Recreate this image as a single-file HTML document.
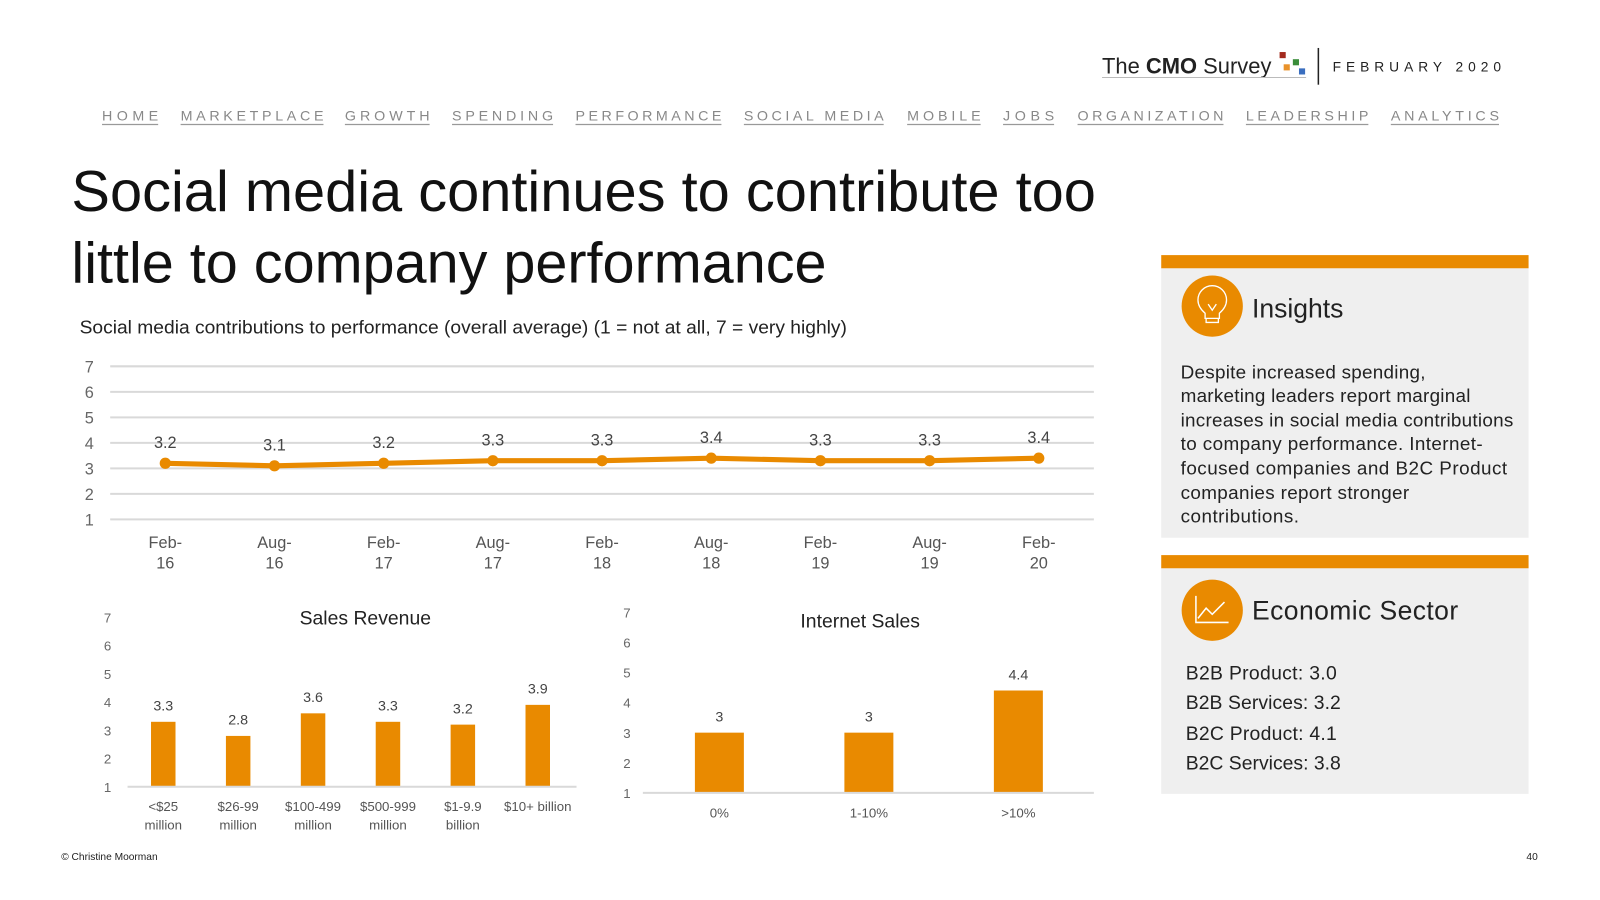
<!DOCTYPE html>
<html><head><meta charset="utf-8"><style>
body{margin:0;background:#fff;font-family:"Liberation Sans",sans-serif}
svg{display:block}
</style></head><body>
<svg width="1600" height="900" viewBox="0 0 1568 882" xmlns="http://www.w3.org/2000/svg" font-family="Liberation Sans, sans-serif">
<g>
<text x="1080" y="72" font-size="22" fill="#222" textLength="166" lengthAdjust="spacingAndGlyphs">The <tspan font-weight="bold">CMO</tspan> Survey</text>
<line x1="1080" y1="76" x2="1280" y2="76" stroke="#bbb" stroke-width="1"/>
<rect x="1254" y="51" width="6" height="6" fill="#a32a1e"/><rect x="1258" y="63" width="6" height="6" fill="#e9922a"/><rect x="1267" y="58" width="6" height="6" fill="#3a8d3a"/><rect x="1273" y="67" width="6" height="6" fill="#3a6ebf"/>
</g>
<line x1="1292" y1="47" x2="1292" y2="83" stroke="#222" stroke-width="1.5"/>
<text x="1306" y="70" font-size="13.5" fill="#222" letter-spacing="5" textLength="170">FEBRUARY 2020</text>
<g font-size="14" fill="#888">
<text x="100" y="118" textLength="55">HOME</text>
<text x="177" y="118" textLength="140">MARKETPLACE</text>
<text x="338" y="118" textLength="83">GROWTH</text>
<text x="443" y="118" textLength="99">SPENDING</text>
<text x="564" y="118" textLength="143">PERFORMANCE</text>
<text x="729" y="118" textLength="137">SOCIAL MEDIA</text>
<text x="889" y="118" textLength="72">MOBILE</text>
<text x="983" y="118" textLength="50">JOBS</text>
<text x="1056" y="118" textLength="143">ORGANIZATION</text>
<text x="1221" y="118" textLength="120">LEADERSHIP</text>
<text x="1363" y="118" textLength="106">ANALYTICS</text>
<g stroke="#999" stroke-width="1.2">
<line x1="100" y1="122" x2="155" y2="122"/><line x1="177" y1="122" x2="317" y2="122"/><line x1="338" y1="122" x2="421" y2="122"/><line x1="443" y1="122" x2="542" y2="122"/><line x1="564" y1="122" x2="707" y2="122"/><line x1="729" y1="122" x2="866" y2="122"/><line x1="889" y1="122" x2="961" y2="122"/><line x1="983" y1="122" x2="1033" y2="122"/><line x1="1056" y1="122" x2="1199" y2="122"/><line x1="1221" y1="122" x2="1341" y2="122"/><line x1="1363" y1="122" x2="1469" y2="122"/>
</g></g>
<g font-size="56" fill="#111">
<text x="70" y="207" textLength="1004" lengthAdjust="spacingAndGlyphs">Social media continues to contribute too</text>
<text x="70" y="277" textLength="740" lengthAdjust="spacingAndGlyphs">little to company performance</text>
</g>
<text x="78" y="327" font-size="18" fill="#222" textLength="752" lengthAdjust="spacingAndGlyphs">Social media contributions to performance (overall average) (1 = not at all, 7 = very highly)</text>
<g id="lineChart"></g>
<g id="salesChart"></g>
<g id="internetChart"></g>
<g>
<rect x="1138" y="250" width="360" height="13" fill="#e98a00"/>
<rect x="1138" y="263" width="360" height="264" fill="#efefef"/>
<circle cx="1188" cy="300" r="30" fill="#e98a00"/>
<path d="M1181 312 v-5 q-7-6-7-13 a14 14 0 0 1 28 0 q0 7-7 13 v5 z M1182 312 h12 v4 h-12z M1184 298 l4 6 l4-6" fill="none" stroke="#fff" stroke-width="1.3"/>
<text x="1227" y="311" font-size="26" fill="#222">Insights</text>
<g font-size="18.5" fill="#222">
<text x="1157" y="371" textLength="240">Despite increased spending,</text>
<text x="1157" y="394" textLength="284">marketing leaders report marginal</text>
<text x="1157" y="418" textLength="326">increases in social media contributions</text>
<text x="1157" y="441" textLength="296">to company performance. Internet-</text>
<text x="1157" y="465" textLength="320">focused companies and B2C Product</text>
<text x="1157" y="489" textLength="224">companies report stronger</text>
<text x="1157" y="512" textLength="116">contributions.</text>
</g></g>
<g>
<rect x="1138" y="544" width="360" height="13" fill="#e98a00"/>
<rect x="1138" y="557" width="360" height="221" fill="#efefef"/>
<circle cx="1188" cy="598" r="30" fill="#e98a00"/>
<path d="M1172 584 v26 h32 M1174 606 l8-10 l6 6 l12-12" fill="none" stroke="#fff" stroke-width="1.5"/>
<text x="1227" y="607" font-size="26" fill="#222" textLength="202">Economic Sector</text>
<g font-size="19" fill="#222">
<text x="1162" y="666" textLength="148">B2B Product: 3.0</text>
<text x="1162" y="695" textLength="152">B2B Services: 3.2</text>
<text x="1162" y="725" textLength="148">B2C Product: 4.1</text>
<text x="1162" y="754" textLength="152">B2C Services: 3.8</text>
</g></g>
<text x="60" y="843" font-size="10" fill="#222">© Christine Moorman</text>
<text x="1507" y="843" font-size="10" fill="#222" text-anchor="end">40</text>
</svg>
<script>
const NS="http://www.w3.org/2000/svg";
const lineCats=["Feb-|16","Aug-|16","Feb-|17","Aug-|17","Feb-|18","Aug-|18","Feb-|19","Aug-|19","Feb-|20"];
const lineVals=[3.2,3.1,3.2,3.3,3.3,3.4,3.3,3.3,3.4];
const yTicks=[1,2,3,4,5,6,7];
const salesCats=["<$25|million","$26-99|million","$100-499|million","$500-999|million","$1-9.9|billion","$10+ billion"];
const salesVals=[3.3,2.8,3.6,3.3,3.2,3.9];
const netCats=["0%","1-10%",">10%"];
const netVals=[3,3,4.4];
const ORANGE="#e98a00";
function mk(p,tag,a,txt){const e=document.createElementNS(NS,tag);for(const k in a)e.setAttribute(k,a[k]);if(txt!==undefined)e.textContent=txt;p.appendChild(e);return e;}
(function(){
const g=document.getElementById('lineChart');
const y=v=>509-(v-1)*25, x=i=>162+i*107;
yTicks.forEach(t=>{
 const l=mk(g,'line',{x1:108,x2:1072,y1:y(t),y2:y(t),stroke:'#d9d9d9','stroke-width':2});
 
 
 const tx=mk(g,'text',{x:92,y:y(t)+6,'font-size':16,fill:'#666','text-anchor':'end'},t);
 
 
});
const pts=lineVals.map((v,i)=>x(i)+','+y(v)).join(' ');
const pl=mk(g,'polyline',{points:pts,fill:'none',stroke:ORANGE,'stroke-width':5});


lineVals.forEach((v,i)=>{
 const c=mk(g,'circle',{cx:x(i),cy:y(v),r:5.5,fill:ORANGE});
 
 
 const t=mk(g,'text',{x:x(i),y:y(v)-15,'font-size':16,fill:'#444','text-anchor':'middle'},v.toFixed(1));
 
 
 const parts=lineCats[i].split('|');
 parts.forEach((p,j)=>{const c2=mk(g,'text',{x:x(i),y:537+j*20,'font-size':16,fill:'#555','text-anchor':'middle'},p);
 
 });
});
})();
function bars(id,title,titleX,titleY,cats,vals,base,top,x0,step,bw,axisX1,axisX2,tickX,fmt){
 const g=document.getElementById(id);
 const unit=(base-top)/6, y=v=>base-(v-1)*unit;
 yTicks.forEach(t=>{const tx=mk(g,'text',{x:tickX,y:y(t)+5,'font-size':13,fill:'#666','text-anchor':'end'},t);
 
 });
 const tt=mk(g,'text',{x:titleX,y:titleY,'font-size':19,fill:'#222','text-anchor':'middle'},title);
 
 
 vals.forEach((v,i)=>{
  const cx=x0+i*step;
  const r=mk(g,'rect',{x:cx-bw/2,y:y(v),width:bw,height:base-y(v),fill:ORANGE});
  
  
  const t=mk(g,'text',{x:cx,y:y(v)-11,'font-size':14,fill:'#444','text-anchor':'middle'},fmt(v));
  
  
  cats[i].split('|').forEach((p,j)=>{const c=mk(g,'text',{x:cx,y:base+24+j*18,'font-size':13,fill:'#555','text-anchor':'middle'},p);
  
  });
 });
 const ax=mk(g,'line',{x1:axisX1,x2:axisX2,y1:base,y2:base,stroke:'#d9d9d9','stroke-width':2});
 
 
}
bars('salesChart','Sales Revenue',358,612,salesCats,salesVals,771,605,160,73.4,24,125,565,109,v=>v.toFixed(1));
bars('internetChart','Internet Sales',843,615,netCats,netVals,777,600,705,146.5,48,630,1072,618,v=>String(v));
</script>
</body></html>
